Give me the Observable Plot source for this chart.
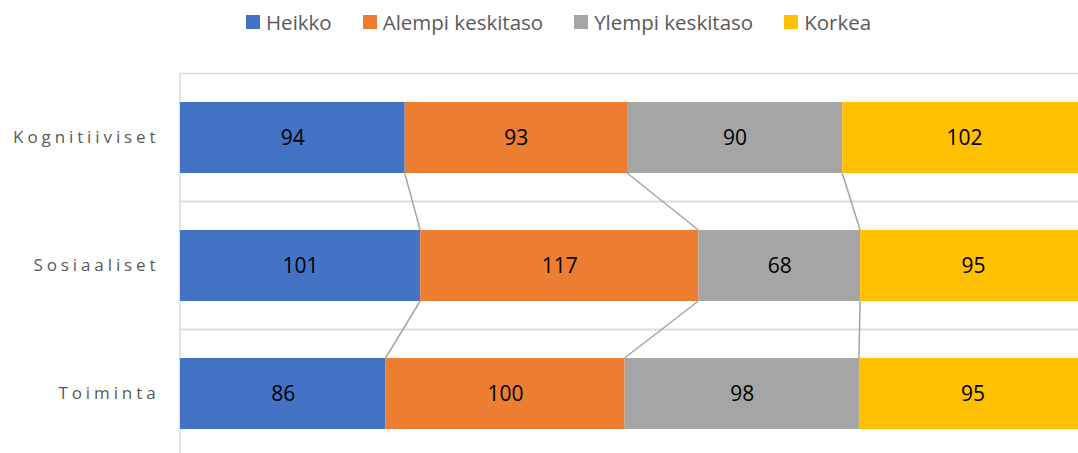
<!DOCTYPE html>
<html>
<head>
<meta charset="utf-8">
<script src="https://cdn.jsdelivr.net/npm/d3@7"></script>
<script src="https://cdn.jsdelivr.net/npm/@observablehq/plot@0.6"></script>
<style>
  html, body { margin: 0; padding: 0; background: #fff; width: 1078px; height: 453px; overflow: hidden; }
  #legend { height: 44px; display: flex; align-items: center; justify-content: flex-start; padding-left: 246px; box-sizing: border-box;
            font-family: "Open Sans", "Noto Sans", sans-serif; font-size: 20.5px; color: #595959; }
  .item { display: flex; align-items: center; margin-right: 31px; }
  .sw { width: 14px; height: 14px; margin-right: 6px; }
  #chart svg { display: block; overflow: hidden; }
</style>
</head>
<body>
<div id="legend"></div>
<div id="chart"></div>
<script>
const categories = ["Kognitiiviset", "Sosiaaliset", "Toiminta"];
const series = ["Heikko", "Alempi keskitaso", "Ylempi keskitaso", "Korkea"];
const colors = ["#4472C4", "#ED7D31", "#A5A5A5", "#FFC000"];
const heikko = [94, 101, 86];
const alempi = [93, 117, 100];
const ylempi = [90, 68, 98];
const korkea = [102, 95, 95];

const seriesValues = [heikko, alempi, ylempi, korkea];
const rows = [];
categories.forEach((c, i) => {
  series.forEach((s, j) => rows.push({category: c, series: s, value: seriesValues[j][i]}));
});

// legend
const legend = d3.select("#legend");
series.forEach((s, j) => {
  const it = legend.append("div").attr("class", "item");
  it.append("div").attr("class", "sw").style("background", colors[j]);
  it.append("span").text(s);
});

const W = 1078, H = 409;
const font = '"Open Sans", "Noto Sans", sans-serif';

const plot = Plot.plot({
  width: W,
  height: H,
  marginLeft: 180,
  marginRight: 0,
  marginTop: 30,
  marginBottom: 0,
  style: {fontFamily: font, background: "#fff"},
  x: {domain: [0, 1], range: [180, 1086], axis: null},
  y: {domain: categories, range: [30, 414], paddingInner: 0.445, paddingOuter: 0.2225,
      tickSize: 0, tickPadding: 21, label: null, fontSize: 17},
  color: {domain: series, range: colors},
  marks: [
    Plot.barX(categories, {y: d => d, x1: 0, x2: 1, fill: "none", stroke: "#D9D9D9", strokeWidth: 1.5,
                           insetTop: -28.5, insetBottom: -28.5}),
    Plot.barX(rows, Plot.stackX({y: "category", x: "value", fill: "series", offset: "normalize"})),
    Plot.text(rows, Plot.stackX({y: "category", x: "value", text: "value", offset: "normalize",
                                 fill: "#000", fontSize: 21, fontFamily: font}))
  ]
});

document.getElementById("chart").appendChild(plot);
const svg = d3.select(plot);

// category label styling
svg.selectAll('g[aria-label="y-axis tick label"] text, g[aria-label="y-axis tick label"]')
  .attr("fill", "#595959")
  .style("letter-spacing", "3.9px")
  .style("font-size", "17px");

// series lines between bars, from rendered bar rects
const barRects = [];
svg.selectAll('g[aria-label="bar"] rect').each(function() {
  const f = this.getAttribute("fill");
  if (f && f !== "none") {
    barRects.push({
      x: +this.getAttribute("x"), w: +this.getAttribute("width"),
      y: +this.getAttribute("y"), h: +this.getAttribute("height"), fill: f
    });
  }
});
const byY = d3.groups(barRects, d => d.y).sort((a, b) => a[0] - b[0]);
const lineG = svg.append("g").attr("stroke", "#A5A5A5").attr("stroke-width", 1.5).attr("fill", "none");
for (let k = 0; k < byY.length - 1; k++) {
  const a = byY[k][1].slice().sort((p, q) => p.x - q.x);
  const b = byY[k + 1][1].slice().sort((p, q) => p.x - q.x);
  for (let s = 0; s < Math.min(a.length, b.length) - 1; s++) {
    lineG.append("line")
      .attr("x1", a[s].x + a[s].w).attr("y1", a[s].y + a[s].h)
      .attr("x2", b[s].x + b[s].w).attr("y2", b[s].y);
  }
}
</script>
</body>
</html>
